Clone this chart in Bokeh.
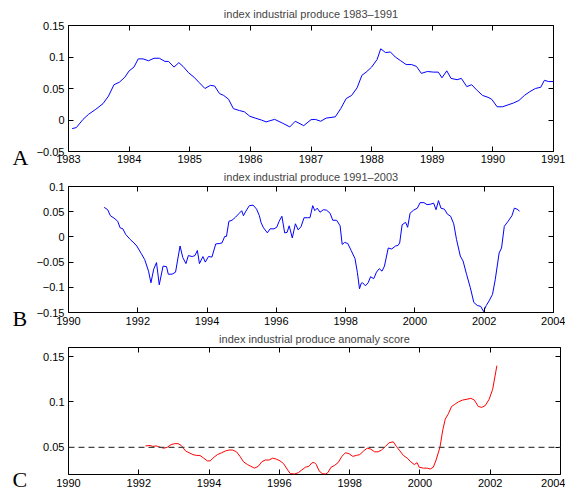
from bokeh.plotting import figure
from bokeh.models import (LinearAxis, FixedTicker, CustomJSTickFormatter, Span, Range1d)
from bokeh.layouts import column, row
from bokeh.core.properties import value
from bokeh.embed import file_html
from bokeh.resources import INLINE

# ---------------- data ----------------
a_years = [1983.06, 1983.13, 1983.24, 1983.33, 1983.45, 1983.57, 1983.66, 1983.75, 1983.84, 1983.93,
           1984.0, 1984.08, 1984.15, 1984.23, 1984.32, 1984.41, 1984.50, 1984.59, 1984.65, 1984.74,
           1984.82, 1984.89, 1984.98, 1985.07, 1985.16, 1985.25, 1985.34, 1985.41, 1985.49, 1985.56,
           1985.64, 1985.72, 1985.82, 1985.90, 1985.99, 1986.08, 1986.18, 1986.26, 1986.40, 1986.53,
           1986.65, 1986.74, 1986.88, 1987.0, 1987.07, 1987.16, 1987.25, 1987.40, 1987.49, 1987.58,
           1987.67, 1987.76, 1987.84, 1987.91, 1988.0, 1988.09, 1988.15, 1988.23, 1988.31, 1988.39,
           1988.48, 1988.57, 1988.66, 1988.74, 1988.82, 1988.92, 1989.02, 1989.10, 1989.16, 1989.24,
           1989.31, 1989.41, 1989.48, 1989.57, 1989.65, 1989.74, 1989.83, 1989.92, 1989.98, 1990.07,
           1990.16, 1990.25, 1990.34, 1990.43, 1990.52, 1990.61, 1990.70, 1990.79, 1990.85, 1990.92,
           1991.0]
a_values = [-0.0137, -0.012, 0.001, 0.009, 0.017, 0.026, 0.038, 0.056, 0.060, 0.068,
            0.078, 0.084, 0.097, 0.097, 0.094, 0.098, 0.098, 0.093, 0.093, 0.084,
            0.091, 0.085, 0.075, 0.068, 0.059, 0.050, 0.055, 0.054, 0.042, 0.039,
            0.033, 0.018, 0.015, 0.013, 0.006, 0.003, 0.000, -0.003, 0.001, -0.005,
            -0.011, -0.002, -0.009, 0.0005, 0.001, -0.002, 0.003, 0.005, 0.018, 0.034,
            0.039, 0.051, 0.071, 0.076, 0.084, 0.096, 0.113, 0.107, 0.108, 0.100,
            0.094, 0.088, 0.088, 0.085, 0.074, 0.077, 0.076, 0.076, 0.067, 0.078,
            0.066, 0.064, 0.066, 0.053, 0.056, 0.047, 0.039, 0.036, 0.033, 0.021,
            0.021, 0.024, 0.027, 0.031, 0.039, 0.045, 0.050, 0.052, 0.063, 0.061,
            0.061]

b_years = [1991.03, 1991.13, 1991.21, 1991.34, 1991.42, 1991.49, 1991.57, 1991.65, 1991.78, 1991.89,
           1991.97, 1992.10, 1992.20, 1992.31, 1992.38, 1992.46, 1992.54, 1992.62, 1992.73, 1992.83,
           1992.88, 1992.99, 1993.09, 1993.22, 1993.30, 1993.39, 1993.46, 1993.57, 1993.65, 1993.72,
           1993.78, 1993.88, 1993.95, 1994.04, 1994.14, 1994.25, 1994.37, 1994.43, 1994.51, 1994.56,
           1994.63, 1994.72, 1994.82, 1994.93, 1995.00, 1995.05, 1995.12, 1995.22, 1995.33, 1995.43,
           1995.51, 1995.56, 1995.63, 1995.74, 1995.82, 1995.93, 1996.01, 1996.08, 1996.16, 1996.24,
           1996.31, 1996.37, 1996.46, 1996.55, 1996.63, 1996.71, 1996.80, 1996.90, 1996.97, 1997.05,
           1997.11, 1997.18, 1997.26, 1997.36, 1997.45, 1997.55, 1997.63, 1997.74, 1997.84, 1997.90,
           1997.97, 1998.06, 1998.16, 1998.27, 1998.34, 1998.40, 1998.45, 1998.49, 1998.57, 1998.65,
           1998.72, 1998.81, 1998.89, 1998.97, 1999.05, 1999.12, 1999.23, 1999.33, 1999.44, 1999.51,
           1999.56, 1999.63, 1999.73, 1999.79, 1999.86, 1999.96, 2000.07, 2000.15, 2000.26, 2000.35,
           2000.46, 2000.54, 2000.61, 2000.68, 2000.75, 2000.85, 2000.94, 2001.03, 2001.12, 2001.20,
           2001.31, 2001.39, 2001.49, 2001.60, 2001.70, 2001.80, 2001.90, 2001.98, 2002.06, 2002.14,
           2002.24, 2002.32, 2002.43, 2002.50, 2002.58, 2002.69, 2002.80, 2002.87, 2002.95, 2003.02]
b_values = [0.0586, 0.054, 0.042, 0.036, 0.031, 0.018, 0.016, 0.005, -0.005, -0.012,
            -0.018, -0.033, -0.045, -0.068, -0.091, -0.064, -0.051, -0.095, -0.058, -0.059,
            -0.074, -0.074, -0.070, -0.018, -0.041, -0.053, -0.037, -0.039, -0.037, -0.027,
            -0.053, -0.039, -0.050, -0.039, -0.040, -0.014, -0.013, -0.012, 0.001, 0.001,
            0.031, 0.033, 0.039, 0.047, 0.052, 0.042, 0.051, 0.062, 0.063, 0.055,
            0.042, 0.028, 0.018, 0.008, 0.016, 0.016, 0.019, 0.031, 0.041, 0.008,
            0.009, 0.022, -0.002, 0.026, 0.014, 0.020, 0.038, 0.038, 0.038, 0.062,
            0.052, 0.057, 0.049, 0.054, 0.053, 0.047, 0.033, 0.033, 0.022, -0.015,
            -0.011, -0.013, -0.027, -0.043, -0.071, -0.103, -0.092, -0.091, -0.097, -0.091,
            -0.079, -0.083, -0.070, -0.063, -0.068, -0.058, -0.022, -0.024, -0.018, -0.017,
            -0.012, 0.024, 0.029, 0.019, 0.047, 0.053, 0.057, 0.068, 0.068, 0.064,
            0.065, 0.067, 0.054, 0.072, 0.057, 0.055, 0.045, 0.041, 0.026, -0.005,
            -0.038, -0.048, -0.074, -0.101, -0.130, -0.136, -0.138, -0.148, -0.136, -0.127,
            -0.114, -0.084, -0.032, -0.022, 0.021, 0.031, 0.042, 0.057, 0.055, 0.051]

c_years = [1992.19, 1992.32, 1992.40, 1992.50, 1992.61, 1992.71, 1992.81, 1992.92, 1993.02, 1993.12,
           1993.21, 1993.33, 1993.43, 1993.54, 1993.64, 1993.74, 1993.85, 1993.95, 1994.03, 1994.14,
           1994.24, 1994.36, 1994.47, 1994.57, 1994.67, 1994.78, 1994.88, 1994.98, 1995.09, 1995.19,
           1995.29, 1995.40, 1995.50, 1995.60, 1995.71, 1995.81, 1995.91, 1996.02, 1996.12, 1996.22,
           1996.31, 1996.43, 1996.54, 1996.64, 1996.74, 1996.84, 1996.93, 1997.00, 1997.05, 1997.13,
           1997.22, 1997.31, 1997.38, 1997.47, 1997.57, 1997.67, 1997.78, 1997.88, 1997.98, 1998.09,
           1998.19, 1998.29, 1998.40, 1998.50, 1998.60, 1998.71, 1998.81, 1998.91, 1999.02, 1999.12,
           1999.24, 1999.33, 1999.43, 1999.53, 1999.64, 1999.74, 1999.84, 1999.92, 1999.98, 2000.10,
           2000.21, 2000.29, 2000.38, 2000.46, 2000.57, 2000.65, 2000.72, 2000.81, 2000.90, 2000.98,
           2001.09, 2001.21, 2001.34, 2001.45, 2001.55, 2001.66, 2001.76, 2001.86, 2001.97, 2002.07,
           2002.19]
c_values = [0.0515, 0.052, 0.051, 0.0515, 0.050, 0.049, 0.050, 0.053, 0.054, 0.054,
            0.052, 0.046, 0.044, 0.042, 0.041, 0.041, 0.038, 0.035, 0.035, 0.039,
            0.042, 0.044, 0.046, 0.047, 0.047, 0.045, 0.040, 0.034, 0.031, 0.029,
            0.027, 0.029, 0.034, 0.036, 0.036, 0.038, 0.037, 0.035, 0.032, 0.026,
            0.021, 0.0205, 0.022, 0.025, 0.028, 0.029, 0.033, 0.033, 0.031, 0.024,
            0.021, 0.0205, 0.022, 0.028, 0.030, 0.033, 0.040, 0.044, 0.043, 0.040,
            0.041, 0.042, 0.046, 0.049, 0.048, 0.045, 0.045, 0.047, 0.051, 0.055,
            0.056, 0.051, 0.046, 0.041, 0.038, 0.034, 0.031, 0.033, 0.028, 0.027,
            0.027, 0.026, 0.028, 0.036, 0.050, 0.069, 0.081, 0.087, 0.095, 0.097,
            0.100, 0.102, 0.103, 0.104, 0.102, 0.095, 0.094, 0.096, 0.103, 0.114,
            0.140]
threshold = 0.05

titles = ["index industrial produce 1983\u20131991",
          "index industrial produce 1991\u20132003",
          "index industrial produce anomaly score"]
panel_letters = ["A", "B", "C"]
a_xticks = [1983, 1984, 1985, 1986, 1987, 1988, 1989, 1990, 1991]
a_yticks = [-0.05, 0, 0.05, 0.1, 0.15]
b_xticks = [1990, 1992, 1994, 1996, 1998, 2000, 2002, 2004]
b_yticks = [-0.15, -0.1, -0.05, 0, 0.05, 0.1]
c_xticks = b_xticks
c_yticks = [0.05, 0.1, 0.15]

# layout (pixel positions of the panel letters inside a narrow side strip)
STRIP_W = 30
PAGE_H = 493
letter_px_x = [12, 12, 12]
letter_px_y = [157, 318, 479]

FONT = "Liberation Sans"
fmt_code = """
var v = Math.round(tick*10000)/10000;
var s = v.toString();
return s.replace('-', '\\u2212');
"""
blank_code = "return '';"


def make_panel(title, xr, yr, xt, yt, left, fw, fh, top, bottom, title_standoff, x_standoff):
    p = figure(frame_width=fw, frame_height=fh, x_range=xr, y_range=yr,
               output_backend="svg", toolbar_location=None, tools="",
               min_border_left=left, min_border_right=12,
               min_border_top=top, min_border_bottom=bottom,
               background_fill_color="white", border_fill_color="white")
    p.title.text = title
    p.title.text_font = FONT
    p.title.text_font_size = "11px"
    p.title.text_font_style = "normal"
    p.title.align = "center"
    p.title.standoff = title_standoff
    p.title.offset = 0
    p.outline_line_color = "black"
    p.outline_line_width = 1
    p.outline_line_alpha = 1
    p.grid.visible = False
    for ax in (p.xaxis[0], p.yaxis[0]):
        ax.axis_line_color = None
        ax.major_tick_in = 5
        ax.major_tick_out = 0
        ax.minor_tick_line_color = None
        ax.major_tick_line_color = "black"
        ax.major_label_text_font = FONT
        ax.major_label_text_font_size = "11px"
        ax.major_label_text_color = "black"
        ax.formatter = CustomJSTickFormatter(code=fmt_code)
    p.xaxis[0].ticker = FixedTicker(ticks=xt)
    p.yaxis[0].ticker = FixedTicker(ticks=yt)
    p.xaxis[0].major_label_standoff = x_standoff
    p.yaxis[0].major_label_standoff = 4
    top_ax = LinearAxis(ticker=FixedTicker(ticks=xt), axis_line_color=None,
                        major_tick_in=5, major_tick_out=0, minor_tick_line_color=None,
                        formatter=CustomJSTickFormatter(code=blank_code),
                        major_label_standoff=0)
    right_ax = LinearAxis(ticker=FixedTicker(ticks=yt), axis_line_color=None,
                          major_tick_in=5, major_tick_out=0, minor_tick_line_color=None,
                          formatter=CustomJSTickFormatter(code=blank_code),
                          major_label_standoff=0)
    p.add_layout(top_ax, "above")
    p.add_layout(right_ax, "right")
    return p


pa = make_panel(titles[0], (1983, 1991), (-0.05, 0.15), a_xticks, a_yticks,
                68 - STRIP_W, 485, 126, 24, 10, 11, 3)
pa.line(a_years, a_values, line_color="#0000FF", line_width=1)

pb = make_panel(titles[1], (1990, 2004), (-0.15, 0.1), b_xticks, b_yticks,
                68 - STRIP_W, 485, 126, 10, 10, 7, 4)
pb.line(b_years, b_values, line_color="#0000FF", line_width=1)

pc = make_panel(titles[2], (1990, 2004), (0.02, 0.16), c_xticks, c_yticks,
                61 - STRIP_W, 492, 127, 10, 20, 6, 4)
pc.add_layout(Span(location=threshold, dimension="width", line_color="#444444",
                   line_width=1.2, line_dash="6 4"))
pc.line(c_years, c_values, line_color="#FF0000", line_width=1)

# narrow strip holding the panel letters
strip = figure(width=STRIP_W, height=PAGE_H, output_backend="svg", toolbar_location=None,
               tools="", title=None, x_range=Range1d(0, STRIP_W), y_range=Range1d(PAGE_H, 0),
               min_border=0, x_axis_location=None, y_axis_location=None,
               outline_line_color=None, background_fill_color="white",
               border_fill_color="white")
strip.grid.visible = False
strip.text(x=letter_px_x, y=letter_px_y, text=panel_letters,
           text_font=value("Liberation Serif"), text_font_size="22px",
           text_color="black", text_baseline="alphabetic", text_align="left")

layout = row(strip, column(pa, pb, pc, spacing=0), spacing=0)
open("out.html", "w").write(file_html(layout, INLINE))
